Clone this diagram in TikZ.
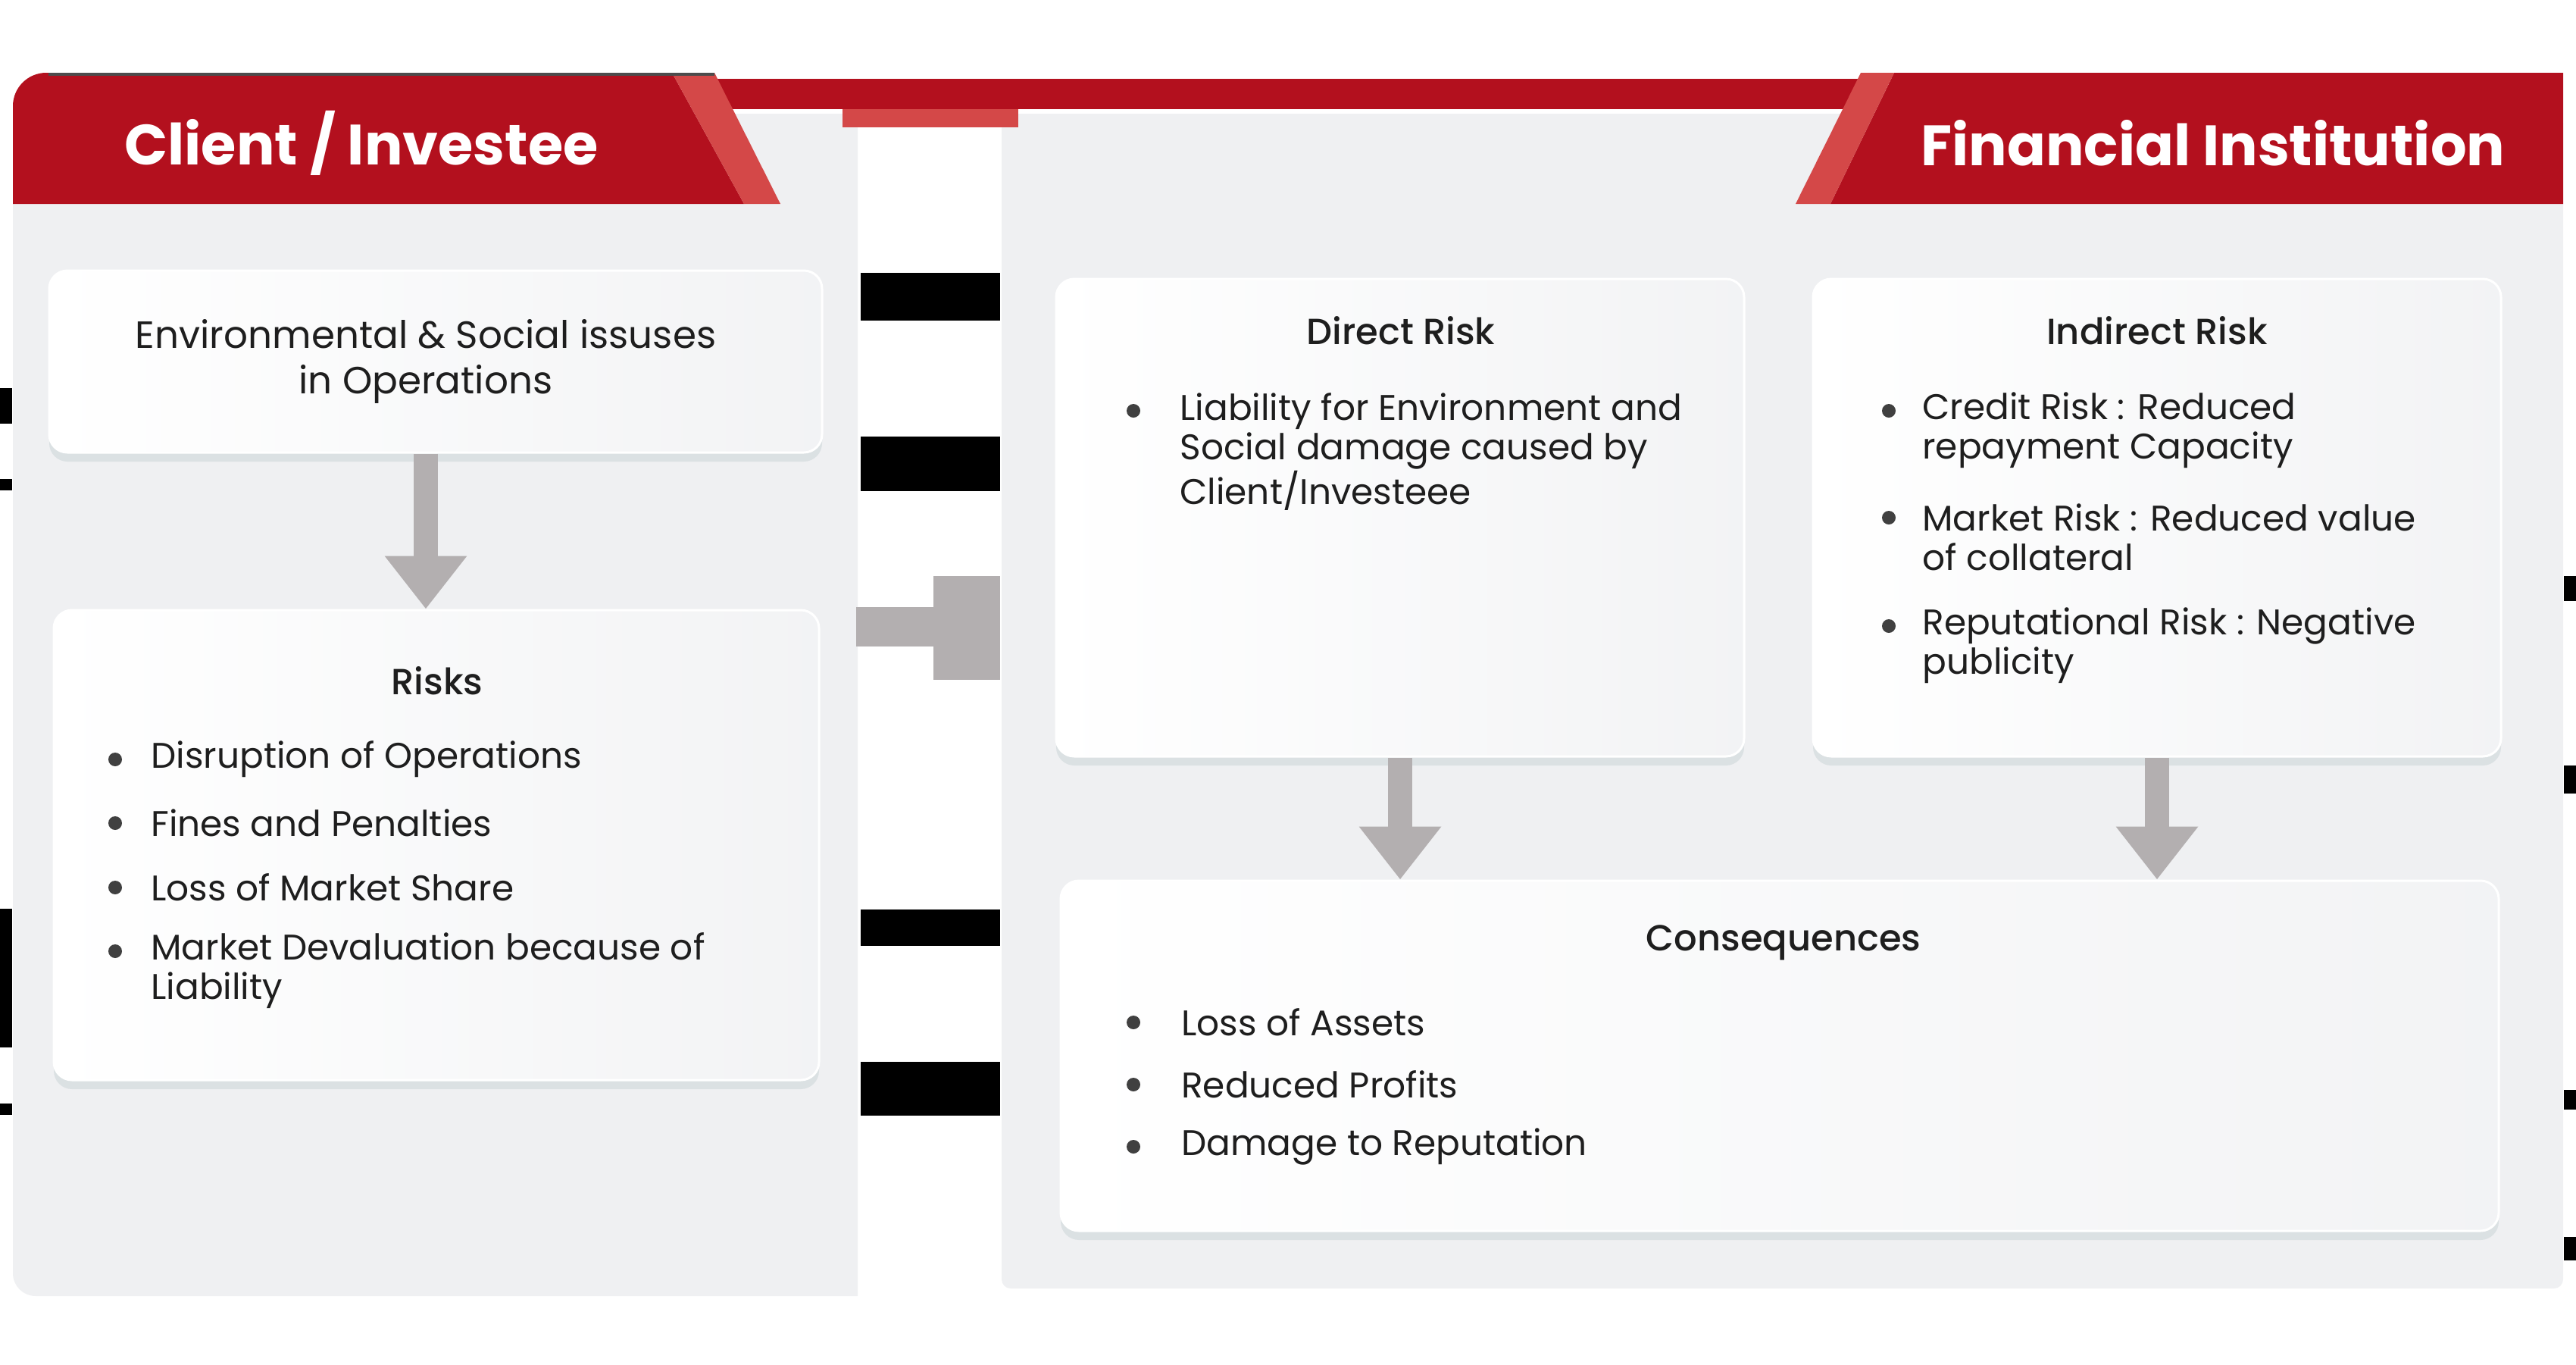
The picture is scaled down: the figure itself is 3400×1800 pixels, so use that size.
\documentclass[tikz,border=0pt]{standalone}
\usepackage{fontspec}
\setmainfont{Poppins}
\newfontfamily\titlefont{Poppins}[UprightFont={* Medium}]
\usetikzlibrary{positioning,shadows,arrows.meta,calc}
\definecolor{panel}{HTML}{EFF0F2}
\definecolor{redd}{HTML}{B3101E}
\definecolor{redl}{HTML}{D44848}
\definecolor{arrowgray}{HTML}{B3AFB0}
\definecolor{ink}{HTML}{1E1E1E}
\definecolor{shadowc}{HTML}{D3DBDE}
\tikzset{card/.style={draw=white, line width=1.5pt, rounded corners=12pt,
left color=white, right color=panel!80!white,
drop shadow={shadow xshift=0pt, shadow yshift=-6pt, fill=shadowc, opacity=.7}},
head/.style={font=\fontsize{37.5}{40}\bfseries\selectfont, text=white, inner sep=0pt},
title/.style={font=\fontsize{24}{30}\titlefont, text=ink, align=center, inner sep=0pt},
item/.style={anchor=west, align=left, inner sep=0pt, font=\fontsize{23.5}{26}\selectfont, text=ink},
dot/.style={circle, fill=ink!85, inner sep=0pt, minimum size=9pt},
flow/.style={draw=arrowgray, line width=16pt, -{Triangle[width=52pt,length=35pt]}},
glitch/.style={fill=black}}

\begin{document}
\begin{tikzpicture}[x=0.5pt,y=-0.5pt]
  \useasboundingbox (0,0) rectangle (3400,1800);
  \fill[panel] (1132,150) -- (1132,1710) [rounded corners=15pt] -- (17,1710) [sharp corners] -- (17,150) -- cycle;
  \fill[panel, rounded corners=6pt] (1322,150) rectangle (3383,1700);
  \fill[redd] (943,104) rectangle (2456,144);
  \fill[redl] (1112,144) rectangle (1344,168);
  \fill[redd] (982,269) -- (17,269) [rounded corners=22pt] -- (17,96) [sharp corners] -- (887,96) -- cycle;
  \fill[redl] (887,96) -- (943,96) -- (1030,269) -- (982,269) -- cycle;
  \fill[black!70] (64,96) rectangle (943,100);
  \fill[redd] (2500,96) -- (3383,96) -- (3383,269) -- (2416,269) -- cycle;
  \fill[redl] (2456,96) -- (2500,96) -- (2416,269) -- (2370,269) -- cycle;
  \foreach \ya/\yb in {360/423, 576/648, 1200/1248, 1401/1472}
    \fill[glitch] (1136,\ya) rectangle (1320,\yb);
  \foreach \ya/\yb in {512/559, 632/647, 1199/1382, 1456/1471}
    \fill[glitch] (0,\ya) rectangle (16,\yb);
  \foreach \ya/\yb in {760/793, 1010/1047, 1438/1464, 1632/1663}
    \fill[glitch] (3384,\ya) rectangle (3400,\yb);
  \fill[arrowgray] (1130,801) rectangle (1232,853);
  \fill[arrowgray] (1232,760) rectangle (1320,897);

  \node[head] (client) at (477,189) {Client / Investee};
  \node[head] (fi) at (2921,189) {Financial Institution};

  \node[card, minimum width=510pt, minimum height=120pt] (es) at (575,477) {};
  \node[card, minimum width=505pt, minimum height=310pt] (risks) at (576,1115) {};
  \node[card, minimum width=454pt, minimum height=315pt] (direct) at (1848,683) {};
  \node[card, minimum width=454pt, minimum height=315pt] (indirect) at (2847,683) {};
  \node[card, minimum width=949pt, minimum height=231pt] (cons) at (2349,1393) {};

  \node[title, font=\fontsize{25}{30}\selectfont] (estext) at (562,477) {Environmental \& Social issuses\\in Operations};
  \node[title] (risktitle) at (577,898) {Risks};
  \node[title] (directtitle) at (1849,436) {Direct Risk};
  \node[title] (indirecttitle) at (2847,436) {Indirect Risk};
  \node[title] (constitle) at (2354,1244) {Consequences};

  \node[dot] (r1) at (152,1002) {};
  \node[dot] (r2) at (152,1086) {};
  \node[dot] (r3) at (152,1171) {};
  \node[dot] (r4) at (152,1255) {};
  \node[item] (r1t) at (199,1002) {Disruption of Operations};
  \node[item] (r2t) at (199,1086) {Fines and Penalties};
  \node[item] (r3t) at (199,1171) {Loss of Market Share};
  \node[item] (r4t) at (199,1281) {Market Devaluation because of\\Liability};

  \node[dot] (d1) at (1496,542) {};
  \node[item] (d1t) at (1557,596) {Liability for Environment and\\Social damage caused by\\Client/Investeee};

  \node[dot] (i1) at (2493,542) {};
  \node[dot] (i2) at (2493,683) {};
  \node[dot] (i3) at (2493,826) {};
  \node[item] (i1t) at (2537,568) {Credit Risk : Reduced\\repayment Capacity};
  \node[item] (i2t) at (2537,709) {Market Risk : Reduced value\\of collateral};
  \node[item] (i3t) at (2537,852) {Reputational Risk : Negative\\publicity};

  \node[dot] (c1) at (1496,1349) {};
  \node[dot] (c2) at (1496,1431) {};
  \node[dot] (c3) at (1496,1513) {};
  \node[item] (c1t) at (1559,1349) {Loss of Assets};
  \node[item] (c2t) at (1559,1431) {Reduced Profits};
  \node[item] (c3t) at (1559,1513) {Damage to Reputation};

  \draw[flow] (es.south -| estext) -- (risks.north -| estext);
  \draw[flow] (direct.south) -- (direct.south |- cons.north);
  \draw[flow] (indirect.south) -- (indirect.south |- cons.north);
\end{tikzpicture}
\end{document}
